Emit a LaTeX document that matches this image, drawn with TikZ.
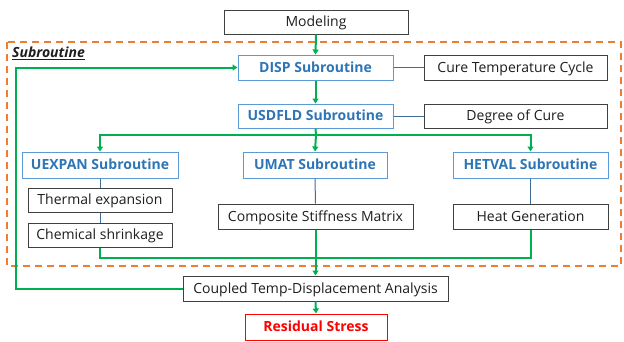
\documentclass[tikz,border=0pt]{standalone}
\usepackage{fontspec}
\setmainfont{Open Sans}
\usetikzlibrary{arrows.meta}
\definecolor{grn}{RGB}{0,176,80}
\definecolor{bluebd}{RGB}{91,155,213}
\definecolor{bluetx}{RGB}{46,117,182}
\definecolor{orng}{RGB}{237,125,49}
\definecolor{boxgray}{RGB}{64,64,64}
\definecolor{txgray}{RGB}{30,30,30}
\begin{document}
\begin{tikzpicture}[x=1pt,y=-1pt,
  base/.style={line width=1pt, fill=white, inner sep=0pt, text height=10pt, text depth=1pt},
  box/.style={base, draw=boxgray, text=txgray, font=\fontsize{14}{16}\selectfont},
  sub/.style={base, draw=bluebd, text=bluetx, font=\fontsize{14}{16}\selectfont\bfseries},
  res/.style={base, draw=red, text=red, font=\fontsize{14}{16}\selectfont\bfseries},
  flow/.style={draw=grn, line width=2pt},
  flowarr/.style={flow, -{Triangle[length=5pt,width=6pt]}},
  link/.style={draw=bluebd!70!black, line width=1pt}]
\useasboundingbox (0,0) rectangle (624,341);
% dashed region
\draw[orng, line width=1.6pt, dash pattern=on 7pt off 5pt] (7,42) rectangle (621,266);
\node[anchor=west, inner sep=0pt, font=\fontsize{14}{16}\selectfont\bfseries\itshape, text=txgray] (lbl) at (12,53) {\underline{Subroutine}};
% nodes
\node[box, minimum width=184pt, minimum height=24pt] (model) at (316,22) {Modeling};
\node[sub, minimum width=155pt, minimum height=25pt] (disp) at (315.5,67.5) {DISP Subroutine};
\node[box, minimum width=183pt, minimum height=25pt] (cure) at (515.5,67.5) {Cure Temperature Cycle};
\node[sub, minimum width=155pt, minimum height=24pt] (usd) at (315.5,116) {USDFLD Subroutine};
\node[box, minimum width=183pt, minimum height=24pt] (doc) at (515.5,116) {Degree of Cure};
\node[sub, minimum width=156pt, minimum height=26pt] (uex) at (100,165) {UEXPAN Subroutine};
\node[sub, minimum width=144pt, minimum height=26pt] (umat) at (315,165) {UMAT Subroutine};
\node[sub, minimum width=155pt, minimum height=26pt] (het) at (530.5,165) {HETVAL Subroutine};
\node[box, minimum width=144pt, minimum height=24pt] (therm) at (100,200) {Thermal expansion};
\node[box, minimum width=144pt, minimum height=24pt] (chem) at (100,235) {Chemical shrinkage};
\node[box, minimum width=195pt, minimum height=25pt] (comp) at (315.5,216.5) {Composite Stiffness Matrix};
\node[box, minimum width=155pt, minimum height=25pt] (heat) at (530.5,216.5) {Heat Generation};
\node[box, minimum width=265pt, minimum height=25pt] (coup) at (315.5,288.5) {Coupled Temp-Displacement Analysis};
\node[res, minimum width=142pt, minimum height=26pt] (rs) at (316,327) {Residual Stress};
% coordinates
\coordinate (br) at (316,135);
\coordinate (mg) at (316,258);
\coordinate (fbl) at (16,288.5);
\coordinate (fbt) at (16,67.5);
% blue links
\draw[link] (disp.east) -- (cure.west);
\draw[link] (usd.east) -- (doc.west);
\draw[link] (uex.south) -- (therm.north);
\draw[link] (therm.south) -- (chem.north);
\draw[link] (umat.south) -- (comp.north);
\draw[link] (het.south) -- (heat.north);
% green flow
\draw[flowarr] (model.south) -- (disp.north);
\draw[flowarr] (disp.south) -- (usd.north);
\draw[flow] (usd.south) -- (br);
\draw[flowarr] (br) -| (uex.north);
\draw[flowarr] (br) -| (het.north);
\draw[flowarr] (br) -- (umat.north);
\draw[flow] (chem.south) |- (mg);
\draw[flow] (heat.south) |- (mg);
\draw[flowarr] (comp.south) -- (coup.north);
\draw[flowarr] (coup.south) -- (rs.north);
\draw[flowarr] (coup.west) -- (fbl) -- (fbt) -- (disp.west);
\end{tikzpicture}
\end{document}
